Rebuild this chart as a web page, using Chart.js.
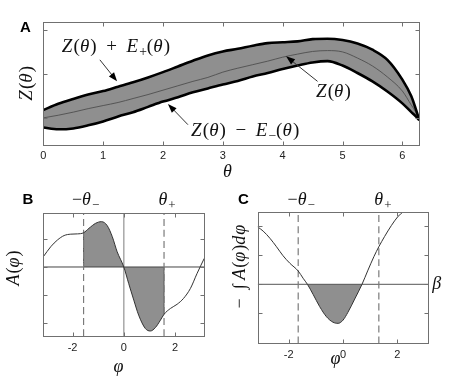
<!DOCTYPE html>
<html>
<head>
<meta charset="utf-8">
<script src="https://cdn.jsdelivr.net/npm/chart.js@4.4.0/dist/chart.umd.min.js"></script>
<style>
html, body { margin: 0; padding: 0; background: #fff; }
#wrap { position: relative; width: 454px; height: 378px; }
canvas { position: absolute; left: 0; top: 0; }
</style>
</head>
<body>
<div id="wrap">
  <canvas id="cA" width="454" height="378"></canvas>
  <canvas id="cB" width="454" height="378"></canvas>
  <canvas id="cC" width="454" height="378"></canvas>
</div>
<script>
// ---- panel A: Z(theta) with its error band
var thetaA = [0, 0.25, 0.5, 0.75, 1.0, 1.25, 1.5, 1.75, 2.0, 2.25, 2.5, 2.75, 3.0, 3.25, 3.5, 3.75, 4.0, 4.25, 4.5, 4.75, 5.0, 5.25, 5.5, 5.75, 6.0, 6.15, 6.22, 6.283];
var upperA = [-0.81, -0.67, -0.56, -0.46, -0.38, -0.28, -0.18, -0.07, 0.05, 0.18, 0.31, 0.43, 0.52, 0.58, 0.65, 0.71, 0.73, 0.75, 0.80, 0.81, 0.78, 0.70, 0.56, 0.33, -0.12, -0.50, -0.77, -1.04];
var midA   = [-0.99, -0.93, -0.86, -0.78, -0.71, -0.64, -0.55, -0.46, -0.36, -0.26, -0.16, -0.07, 0.05, 0.14, 0.22, 0.30, 0.39, 0.46, 0.52, 0.54, 0.51, 0.37, 0.19, -0.06, -0.38, -0.70, -0.85, -1.04];
var lowerA = [-1.21, -1.25, -1.23, -1.16, -1.07, -0.96, -0.86, -0.74, -0.62, -0.52, -0.41, -0.32, -0.23, -0.15, -0.05, 0.03, 0.12, 0.20, 0.27, 0.30, 0.20, 0.03, -0.16, -0.39, -0.66, -0.86, -0.95, -1.04];
var xTicksA = [0, 1, 2, 3, 4, 5, 6];
var yTicksA = [-1, 0, 1];

// ---- panel B: A(phi)
var phiB = [-3.14, -2.85, -2.59, -2.33, -2.07, -1.81, -1.57, -1.36, -1.10, -0.87, -0.65, -0.45, -0.26, 0, 0.19, 0.39, 0.58, 0.84, 1.04, 1.23, 1.43, 1.57, 1.82, 2.08, 2.33, 2.60, 2.86, 3.14];
var aB   = [0.37, 0.73, 0.97, 1.13, 1.18, 1.19, 1.23, 1.39, 1.57, 1.63, 1.49, 1.09, 0.55, 0, -0.59, -1.19, -1.73, -2.21, -2.30, -2.18, -1.91, -1.70, -1.49, -1.34, -1.13, -0.77, -0.23, 0.31];
var thetaB = [-1.57, 1.57];
var xTicksB = [-2, 0, 2];
var yTicksB = [-2, -1, 0, 1];

// ---- panel C: minus integral of A(phi)
var phiC = [-3.15, -2.94, -2.69, -2.45, -2.21, -1.96, -1.65, -1.47, -1.31, -1.10, -0.86, -0.61, -0.37, -0.18, 0, 0.18, 0.43, 0.70, 0.92, 1.14, 1.32, 1.53, 1.78, 2.02, 2.21, 2.35];
var intC = [1.99, 1.84, 1.59, 1.30, 0.99, 0.73, 0.46, 0.21, 0, -0.35, -0.77, -1.12, -1.31, -1.35, -1.24, -0.97, -0.51, 0, 0.49, 0.96, 1.30, 1.65, 2.03, 2.34, 2.51, 2.75];
var thetaC = [-1.65, 1.32];
var crossC = [-1.31, 0.70];
var betaC = 0;
var xTicksC = [-2, 0, 2];
var yTicksC = [-1, 0, 1, 2];

var grey = '#8f8f8f';
var PI = Math.PI;

function pts(xs, ys) {
  return xs.map(function (x, i) { return { x: x, y: ys[i] }; });
}
function line(data, color, width, extra) {
  var d = { data: data, borderColor: color, borderWidth: width, pointRadius: 0, fill: false, cubicInterpolationMode: 'monotone' };
  for (var k in extra) d[k] = extra[k];
  return d;
}

// math-ish text: parts are [text, 'i' italic | 'r' roman | 's' subscript]
function mathText(ctx, parts, x, y, size, align) {
  var items = [], w = 0;
  parts.forEach(function (p) {
    var fs = p[1] === 's' ? size * 0.72 : size;
    var font = (p[1] === 'i' ? 'italic ' : '') + fs + 'px "Liberation Serif"';
    ctx.font = font;
    var pw = ctx.measureText(p[0]).width + (p[1] === 'i' ? size * 0.06 : 0);
    items.push({ t: p[0], font: font, w: pw, dy: p[1] === 's' ? size * 0.2 : 0 });
    w += pw;
  });
  var cx = align === 'center' ? x - w / 2 : x;
  ctx.textAlign = 'left';
  ctx.textBaseline = 'alphabetic';
  items.forEach(function (it) {
    ctx.font = it.font;
    ctx.fillText(it.t, cx, y + it.dy);
    cx += it.w;
  });
}
function rotText(ctx, parts, cx, cy, size) {
  ctx.save();
  ctx.translate(cx, cy);
  ctx.rotate(-PI / 2);
  mathText(ctx, parts, 0, size * 0.3, size, 'center');
  ctx.restore();
}
function arrow(ctx, x0, y0, x1, y1) {
  var a = Math.atan2(y1 - y0, x1 - x0), L = 9, W = 3.3;
  var c = Math.cos(a), s = Math.sin(a);
  ctx.beginPath();
  ctx.moveTo(x0, y0);
  ctx.lineTo(x1 - L * 0.6 * c, y1 - L * 0.6 * s);
  ctx.stroke();
  ctx.beginPath();
  ctx.moveTo(x1, y1);
  ctx.lineTo(x1 - L * c + W * s, y1 - L * s - W * c);
  ctx.lineTo(x1 - L * c - W * s, y1 - L * s + W * c);
  ctx.closePath();
  ctx.fill();
}

// box with inward ticks on all four sides (matlab style)
function framePlugin(xTicks, yTicks, letter, letterPos) {
  return {
    id: 'frame',
    afterDatasetsDraw: function (chart) {
      var ctx = chart.ctx, ca = chart.chartArea, xs = chart.scales.x, ys = chart.scales.y;
      var l = Math.round(ca.left) + 0.5, r = Math.round(ca.right) + 0.5;
      var t = Math.round(ca.top) + 0.5, b = Math.round(ca.bottom) + 0.5;
      ctx.save();
      ctx.strokeStyle = '#707070';
      ctx.lineWidth = 1;
      ctx.strokeRect(l, t, r - l, b - t);
      ctx.beginPath();
      xTicks.forEach(function (v) {
        var px = Math.round(xs.getPixelForValue(v)) + 0.5;
        ctx.moveTo(px, b); ctx.lineTo(px, b - 4);
        ctx.moveTo(px, t); ctx.lineTo(px, t + 4);
      });
      yTicks.forEach(function (v) {
        var py = Math.round(ys.getPixelForValue(v)) + 0.5;
        ctx.moveTo(l, py); ctx.lineTo(l + 4, py);
        ctx.moveTo(r, py); ctx.lineTo(r - 4, py);
      });
      ctx.stroke();
      ctx.fillStyle = '#000';
      ctx.font = 'bold 15px "Liberation Sans"';
      ctx.textAlign = 'left';
      ctx.textBaseline = 'alphabetic';
      ctx.fillText(letter, letterPos[0], letterPos[1]);
      ctx.restore();
    }
  };
}

function baseOptions(pad, xmin, xmax, xTicks, ymin, ymax) {
  return {
    responsive: false,
    animation: false,
    devicePixelRatio: 1,
    events: [],
    layout: { padding: pad },
    plugins: { legend: { display: false }, tooltip: { enabled: false }, filler: { drawTime: 'beforeDatasetsDraw' } },
    scales: {
      x: {
        type: 'linear', min: xmin, max: xmax,
        grid: { display: false, drawTicks: false },
        border: { display: false },
        afterBuildTicks: function (s) { s.ticks = xTicks.map(function (v) { return { value: v }; }); },
        afterFit: function (s) { s.height = 20; },
        ticks: { padding: 5, color: '#222', font: { family: 'Liberation Sans', size: 11 } }
      },
      y: { type: 'linear', display: false, min: ymin, max: ymax }
    }
  };
}

// ---------- chart A
new Chart(document.getElementById('cA'), {
  type: 'line',
  data: {
    datasets: [
      line(pts(thetaA, upperA), '#000', 2.6, { fill: '+1', backgroundColor: grey, order: 1 }),
      line(pts(thetaA, lowerA), '#000', 2.6, { order: 2 }),
      line(pts(thetaA, midA), '#555', 1, { order: 3 })
    ]
  },
  options: baseOptions({ left: 43.3, right: 34.7, top: 22, bottom: 213.3 }, 0, 2 * PI, xTicksA, -1.6, 1.19),
  plugins: [framePlugin(xTicksA, yTicksA, 'A', [20, 32]), {
    id: 'textA',
    afterDraw: function (chart) {
      var ctx = chart.ctx, xs = chart.scales.x, ys = chart.scales.y, ca = chart.chartArea;
      function P(x, y) { return [xs.getPixelForValue(x), ys.getPixelForValue(y)]; }
      ctx.save();
      ctx.fillStyle = '#111';
      ctx.strokeStyle = '#333';
      ctx.lineWidth = 1;
      var p = P(0.31, 0.5);
      mathText(ctx, [['Z', 'i'], ['(', 'r'], ['θ', 'i'], [')  +  ', 'r'], ['E', 'i'], ['+', 's'], ['(', 'r'], ['θ', 'i'], [')', 'r']], p[0], p[1], 19);
      p = P(2.47, -1.41);
      mathText(ctx, [['Z', 'i'], ['(', 'r'], ['θ', 'i'], [')  −  ', 'r'], ['E', 'i'], ['−', 's'], ['(', 'r'], ['θ', 'i'], [')', 'r']], p[0], p[1], 19);
      p = P(4.557, -0.52);
      mathText(ctx, [['Z', 'i'], ['(', 'r'], ['θ', 'i'], [')', 'r']], p[0], p[1], 19);
      ctx.fillStyle = '#000';
      var a = P(0.945, 0.33), b = P(1.233, -0.16);
      arrow(ctx, a[0], a[1], b[0], b[1]);
      a = P(2.417, -1.145); b = P(2.083, -0.675);
      arrow(ctx, a[0], a[1], b[0], b[1]);
      a = P(4.583, -0.16); b = P(4.057, 0.41);
      arrow(ctx, a[0], a[1], b[0], b[1]);
      ctx.fillStyle = '#111';
      rotText(ctx, [['Z', 'i'], ['(', 'r'], ['θ', 'i'], [')', 'r']], ca.left - 17, (ca.top + ca.bottom) / 2, 19);
      mathText(ctx, [['θ', 'i']], 228, 176.5, 18, 'center');
      ctx.restore();
    }
  }]
});

// ---------- chart B
var curveB = pts(phiB, aB);
var edgeB = thetaB.map(function (t) { return aB[phiB.indexOf(t)]; });
new Chart(document.getElementById('cB'), {
  type: 'line',
  data: {
    datasets: [
      line(curveB, '#333', 1, { order: 1 }),
      line([{ x: thetaB[0], y: -2.48 }, { x: thetaB[0], y: 1.93 }], '#7a7a7a', 1.2, { order: 2, borderDash: [7, 4] }),
      line([{ x: thetaB[1], y: -2.48 }, { x: thetaB[1], y: 1.93 }], '#7a7a7a', 1.2, { order: 2, borderDash: [7, 4] }),
      line([{ x: -PI, y: 0 }, { x: PI, y: 0 }], '#444', 1, { order: 3 }),
      line([{ x: 0, y: -2.48 }, { x: 0, y: 1.93 }], '#a8a8a8', 1.5, { order: 4 }),
      line([{ x: thetaB[0], y: 0 }, { x: thetaB[0], y: edgeB[0] }], '#555', 1, { order: 3 }),
      line([{ x: thetaB[1], y: 0 }, { x: thetaB[1], y: edgeB[1] }], '#555', 1, { order: 3 }),
      line(curveB.filter(function (p) { return p.x >= thetaB[0] && p.x <= thetaB[1]; }), 'rgba(0,0,0,0)', 0,
        { order: 5, fill: 'origin', backgroundColor: grey })
    ]
  },
  options: baseOptions({ left: 43.3, right: 249.7, top: 213.3, bottom: 22 }, -PI, PI, xTicksB, -2.48, 1.93),
  plugins: [framePlugin(xTicksB, yTicksB, 'B', [22.5, 203.5]), {
    id: 'textB',
    afterDraw: function (chart) {
      var ctx = chart.ctx, xs = chart.scales.x;
      ctx.save();
      ctx.fillStyle = '#111';
      mathText(ctx, [['−', 'r'], ['θ', 'i'], ['−', 's']], xs.getPixelForValue(thetaB[0]) + 2, 205, 18, 'center');
      mathText(ctx, [['θ', 'i'], ['+', 's']], xs.getPixelForValue(thetaB[1]) + 3, 205, 18, 'center');
      rotText(ctx, [['A', 'i'], ['(', 'r'], ['φ', 'i'], [')', 'r']], 14, 268, 18);
      mathText(ctx, [['φ', 'i']], 119, 372, 18, 'center');
      ctx.restore();
    }
  }]
});

// ---------- chart C
var curveC = pts(phiC, intC);
new Chart(document.getElementById('cC'), {
  type: 'line',
  data: {
    datasets: [
      line(curveC, '#333', 1, { order: 1 }),
      line([{ x: thetaC[0], y: -2.04 }, { x: thetaC[0], y: 2.49 }], '#7a7a7a', 1.2, { order: 2, borderDash: [7, 4] }),
      line([{ x: thetaC[1], y: -2.04 }, { x: thetaC[1], y: 2.49 }], '#7a7a7a', 1.2, { order: 2, borderDash: [7, 4] }),
      line([{ x: -PI, y: betaC }, { x: PI, y: betaC }], '#555', 1, { order: 3 }),
      line(curveC.filter(function (p) { return p.x >= crossC[0] && p.x <= crossC[1]; }), 'rgba(0,0,0,0)', 0,
        { order: 5, fill: { value: betaC }, backgroundColor: grey })
    ]
  },
  options: baseOptions({ left: 257.7, right: 25.7, top: 212.3, bottom: 14.7 }, -PI, PI, xTicksC, -2.04, 2.49),
  plugins: [framePlugin(xTicksC, yTicksC, 'C', [238, 203.5]), {
    id: 'textC',
    afterDraw: function (chart) {
      var ctx = chart.ctx, xs = chart.scales.x, ys = chart.scales.y, ca = chart.chartArea;
      ctx.save();
      ctx.fillStyle = '#111';
      mathText(ctx, [['−', 'r'], ['θ', 'i'], ['−', 's']], xs.getPixelForValue(thetaC[0]) + 3, 205, 18, 'center');
      mathText(ctx, [['θ', 'i'], ['+', 's']], xs.getPixelForValue(thetaC[1]) + 4, 205, 18, 'center');
      mathText(ctx, [['β', 'i']], ca.right + 4, ys.getPixelForValue(betaC) + 5, 18, 'left');
      rotText(ctx, [['−  ', 'r'], ['∫', 'r'], [' ', 'r'], ['A', 'i'], ['(', 'r'], ['φ', 'i'], [')', 'r'], ['d', 'i'], ['φ', 'i']], 240, 266, 18);
      mathText(ctx, [['φ', 'i']], 336, 364, 18, 'center');
      ctx.restore();
    }
  }]
});
</script>
</body>
</html>
